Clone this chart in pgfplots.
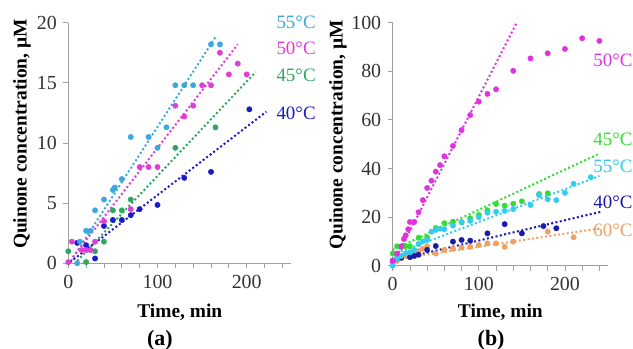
\documentclass[border=0pt]{standalone}
\usepackage{fontspec}
\setmainfont{Liberation Serif}
\usepackage{pgfplots}
\pgfplotsset{compat=1.18}
\definecolor{ca55}{HTML}{3BA8E0}
\definecolor{ca50}{HTML}{E03CD8}
\definecolor{ca45}{HTML}{2EA860}
\definecolor{ca40}{HTML}{1A1ACB}
\definecolor{cb50}{HTML}{E032E0}
\definecolor{cb45}{HTML}{33DD33}
\definecolor{cb55}{HTML}{33CCEE}
\definecolor{cb40}{HTML}{1A1AAA}
\definecolor{cb60}{HTML}{F0A060}
\definecolor{axgray}{HTML}{A0A0A0}
\definecolor{txt}{HTML}{333333}
\tikzset{lab/.style={anchor=west, font=\fontsize{19}{22}\selectfont, text=#1}}
\pgfplotsset{
  panel/.style={
    scale only axis,
    anchor=south west,
    axis x line=bottom, axis y line=left,
    axis line style={-, draw=axgray, line width=0.8bp},
    tick style={draw=axgray, line width=0.8bp},
    tick align=outside,
    major tick length=5bp, minor tick length=5bp,
    xmin=0, xmax=250, ymin=0,
    xtick={0,100,200}, minor xtick={20,40,...,240},
    tick label style={font=\fontsize{20}{24}\selectfont, text=txt},
    xticklabel style={yshift=-3bp},
    yticklabel style={xshift=-3bp},
    /pgf/number format/assume math mode=true,
    label style={font=\fontsize{19.5}{23}\selectfont\bfseries, text=black},
    clip=false,
  },
  pts/.style={only marks, mark=*, mark size=2.7bp, color=#1, mark options={solid, draw=#1, fill=#1}},
  trend/.style={no marks, draw=#1, line width=2bp, dash pattern=on 2bp off 2.4bp},
}
\begin{document}
\begin{tikzpicture}
\useasboundingbox (0,0) rectangle (633bp,349bp);
% ---------------- panel (a)
\begin{axis}[panel, at={(68.3bp,85.7bp)}, width=223bp, height=240.6bp,
  ymax=20, ytick={0,5,10,15,20},
  xlabel={Time, min}, ylabel={Quinone concentration, µM},
  xlabel style={at={(axis description cs:0.5,-0.202)}, anchor=center},
  ylabel style={at={(axis description cs:-0.208,0.537)}, anchor=center},
]
\addplot[trend=ca55] coordinates {(3,0.2) (165,18.8)};
\addplot[trend=ca50] coordinates {(5,0.5) (190,18.2)};
\addplot[trend=ca45] coordinates {(10,0.2) (210,15.9)};
\addplot[trend=ca40] coordinates {(2,0.1) (222,12.6)};
\addplot[pts=ca45] coordinates {(0,1.0) (20,0.1) (30,1.0) (40,1.8) (50,4.4) (60,4.4) (70,5.3) (120,9.6) (165,11.3)};
\addplot[pts=ca40] coordinates {(10,1.7) (20,1.5) (30,0.4) (40,3.1) (50,3.6) (60,3.6) (70,4.0) (80,4.5) (100,4.85) (130,7.1) (160,7.6) (203,12.8)};
\addplot[pts=ca50] coordinates {(0,0.1) (4,1.8) (15,1.1) (20,1.1) (25,1.1) (30,1.8) (40,3.5) (70,4.5) (80,8.0) (90,8.0) (100,8.0) (120,13.1) (130,12.2) (140,13.1) (150,14.8) (160,14.8) (170,17.5) (180,15.7) (190,16.6) (200,15.7)};
\addplot[pts=ca55] coordinates {(10,0) (13,1.8) (20,2.7) (25,2.7) (30,4.4) (40,5.3) (50,6.1) (52,6.3) (60,7.0) (70,10.5) (90,10.5) (100,9.6) (110,11.3) (120,14.8) (130,14.8) (140,14.8) (160,18.2) (170,18.2)};
\node[lab=ca55] at (axis cs:229.5,20.0) {55°C};
\node[lab=ca50] at (axis cs:229.5,17.9) {50°C};
\node[lab=ca45] at (axis cs:229.5,15.6) {45°C};
\node[lab=ca40] at (axis cs:229.5,12.5) {40°C};
\node[font=\fontsize{22}{26}\selectfont\bfseries] at (axis description cs:0.411,-0.319) {(a)};
\end{axis}
% ---------------- panel (b)
\begin{axis}[panel, at={(392.7bp,83.3bp)}, width=215.3bp, height=243bp,
  ymax=100, ytick={0,20,...,100},
  xlabel={Time, min}, ylabel={Quinone concentration, µM},
  xlabel style={at={(axis description cs:0.5,-0.19)}, anchor=center},
  ylabel style={at={(axis description cs:-0.254,0.538)}, anchor=center},
]
\addplot[trend=cb50] coordinates {(0,0.5) (144,100)};
\addplot[trend=cb45] coordinates {(0,6.5) (238,45.8)};
\addplot[trend=cb55] coordinates {(0,4.5) (240,36.9)};
\addplot[trend=cb40] coordinates {(0,2) (242,22.2)};
\addplot[trend=cb60] coordinates {(0,2.4) (241,15.4)};
\addplot[pts=cb60] coordinates {(0,1) (5,2) (10,3) (15,4) (20,5) (25,5.5) (30,6) (35,7) (40,8) (50,5) (60,6.5) (70,7) (80,7.5) (90,7.8) (100,8.5) (110,9.2) (120,9.2) (130,7.8) (140,9.9) (180,14) (210,11.7)};
\addplot[pts=cb40] coordinates {(0,2) (5,3) (10,3.3) (20,3.5) (25,4) (30,4.5) (40,6.5) (50,8.1) (70,9.9) (80,10.6) (90,10.3) (110,13.3) (130,17.1) (150,13.3) (175,16.3) (190,15.4)};
\addplot[pts=cb45] coordinates {(0,5) (5,8) (10,7.5) (15,8) (20,8) (30,11.5) (40,11.7) (50,15.5) (60,17.5) (70,18.1) (80,17.8) (90,19.5) (100,20.9) (110,22.8) (120,25.4) (130,24.7) (140,25.5) (150,26.5) (170,29.5) (180,29.8)};
\addplot[pts=cb55] coordinates {(0,0) (5,3) (10,4) (15,5) (20,5.5) (25,6.5) (30,8.9) (35,10) (40,10.6) (45,14) (50,14.7) (55,15.2) (60,15) (70,16.5) (80,18) (90,18.5) (100,20) (110,21.8) (120,22.2) (130,22.6) (140,23.3) (160,25) (170,29) (180,27.3) (190,27) (200,30) (210,33.7) (230,36.4)};
\addplot[pts=cb50] coordinates {(0,2) (5,5) (10,8) (13,11) (15,12.5) (18,15) (20,18) (25,18) (30,22) (35,27) (40,32) (45,35) (50,38.7) (55,41.4) (60,45) (70,49.3) (80,55.8) (90,62) (100,67.5) (110,70.7) (120,72.6) (140,80.2) (160,85.3) (180,87.4) (200,89.2) (220,93.6) (240,92.5)};
\node[lab=cb50] at (axis cs:229,84.7) {50°C};
\node[lab=cb45] at (axis cs:229,52.1) {45°C};
\node[lab=cb55] at (axis cs:229,41) {55°C};
\node[lab=cb40] at (axis cs:229,26.2) {40°C};
\node[lab=cb60] at (axis cs:229,14.7) {60°C};
\node[font=\fontsize{22}{26}\selectfont\bfseries] at (axis description cs:0.457,-0.306) {(b)};
\end{axis}
\end{tikzpicture}
\end{document}
